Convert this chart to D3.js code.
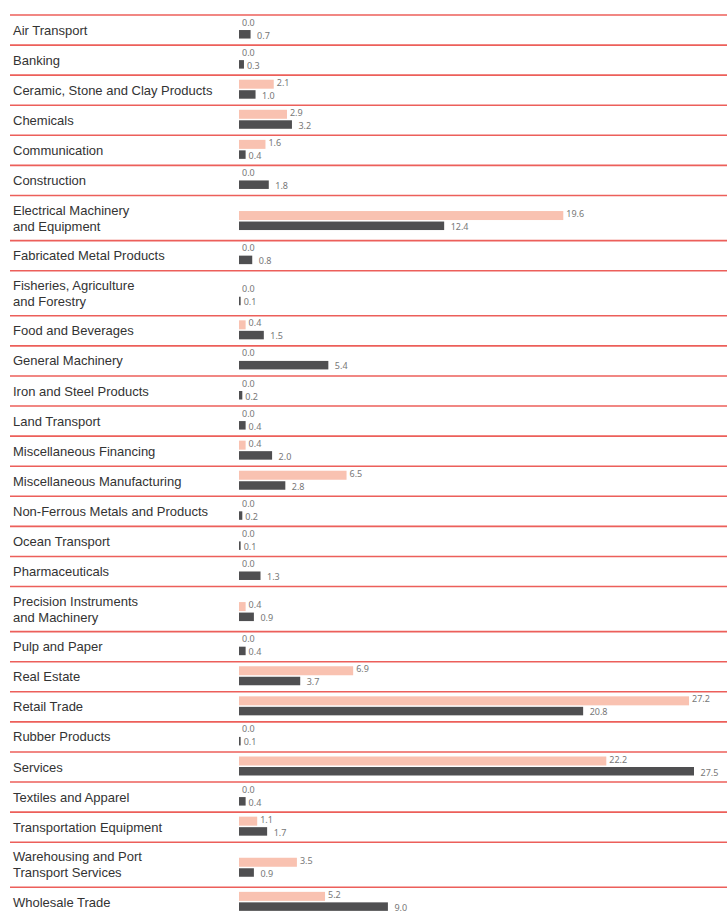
<!DOCTYPE html>
<html>
<head>
<meta charset="utf-8">
<script src="https://cdn.jsdelivr.net/npm/d3@7"></script>
<style>
  body { margin: 0; background: #fff; }
  #canvas { width: 727px; height: 913px; overflow: hidden; }
</style>
</head>
<body>
<div id="canvas"></div>
<script>
// ----------------------------------------------------------
// DATA -----------------------------------------------------
// ----------------------------------------------------------
var categories = [
  "Air Transport",
  "Banking",
  "Ceramic, Stone and Clay Products",
  "Chemicals",
  "Communication",
  "Construction",
  "Electrical Machinery\nand Equipment",
  "Fabricated Metal Products",
  "Fisheries, Agriculture\nand Forestry",
  "Food and Beverages",
  "General Machinery",
  "Iron and Steel Products",
  "Land Transport",
  "Miscellaneous Financing",
  "Miscellaneous Manufacturing",
  "Non-Ferrous Metals and Products",
  "Ocean Transport",
  "Pharmaceuticals",
  "Precision Instruments\nand Machinery",
  "Pulp and Paper",
  "Real Estate",
  "Retail Trade",
  "Rubber Products",
  "Services",
  "Textiles and Apparel",
  "Transportation Equipment",
  "Warehousing and Port\nTransport Services",
  "Wholesale Trade"
];

// light (upper) bars
var series_1 = [0.0, 0.0, 2.1, 2.9, 1.6, 0.0, 19.6, 0.0, 0.0, 0.4, 0.0, 0.0, 0.0, 0.4,
                6.5, 0.0, 0.0, 0.0, 0.4, 0.0, 6.9, 27.2, 0.0, 22.2, 0.0, 1.1, 3.5, 5.2];

// dark (lower) bars
var series_2 = [0.7, 0.3, 1.0, 3.2, 0.4, 1.8, 12.4, 0.8, 0.1, 1.5, 5.4, 0.2, 0.4, 2.0,
                2.8, 0.2, 0.1, 1.3, 0.9, 0.4, 3.7, 20.8, 0.1, 27.5, 0.4, 1.7, 0.9, 9.0];

var data_set = {
  container_width: 727,
  container_height: 913,
  top: 15,
  row_unit: 30.08,
  line_left: 10,
  bar_left: 239,
  bar_right: 694,
  domain_max: 27.5,
  color_line: "#ec5f5a",
  color_bar_1: "#f9c2b1",
  color_bar_2: "#4f4f51",
  color_label: "#333",
  color_value: "#777",
  font_label: "'Liberation Sans', Arial, sans-serif",
  font_value: "'Noto Sans', 'DejaVu Sans', sans-serif"
};

// ----------------------------------------------------------
// STRUCTURE ------------------------------------------------
// ----------------------------------------------------------
var rows = categories.map(function (c, i) {
  var lines = c.split("\n");
  return { term: c, lines: lines, v1: series_1[i], v2: series_2[i] };
});

// row positions: two-line rows take 1.5 units
var yPos = 0;
rows.forEach(function (r) {
  r.h = data_set.row_unit * (r.lines.length > 1 ? 1.5 : 1);
  r.y0 = yPos;
  yPos += r.h;
});

var yScale = d3.scaleLinear()
  .domain([0, yPos])
  .range([data_set.top, data_set.top + yPos]);

var xScale = d3.scaleLinear()
  .domain([0, data_set.domain_max])
  .range([data_set.bar_left, data_set.bar_right]);

var container = d3.select("#canvas").append("svg")
  .attr("width", data_set.container_width)
  .attr("height", data_set.container_height);

var row_group = container.selectAll(".row")
  .data(rows)
  .enter()
  .append("g")
  .attr("class", "row");

// separator lines
row_group.append("line")
  .attr("x1", data_set.line_left)
  .attr("x2", data_set.container_width)
  .attr("y1", function (d) { return yScale(d.y0); })
  .attr("y2", function (d) { return yScale(d.y0); })
  .style("stroke", data_set.color_line)
  .style("stroke-width", 1.6);

// category labels (one text per line)
row_group.each(function (d) {
  var g = d3.select(this);
  var mid = yScale(d.y0 + d.h / 2);
  var lh = 16;
  var first = mid - (d.lines.length - 1) * lh / 2 + 4.5;
  g.selectAll("text.label")
    .data(d.lines)
    .enter()
    .append("text")
    .attr("class", "label")
    .attr("x", 13)
    .attr("y", function (l, i) { return first + i * lh; })
    .style("font-family", data_set.font_label)
    .style("font-size", "13px")
    .style("fill", data_set.color_label)
    .text(function (l) { return l; });
});

// bar pair geometry relative to the row
function darkTop(d) {
  return yScale(d.y0 + d.h / 2) + (d.lines.length > 1 ? 3.5 : 0);
}

row_group.append("rect")
  .attr("class", "bar_1")
  .attr("x", xScale(0))
  .attr("y", function (d) { return darkTop(d) - 10.5; })
  .attr("width", function (d) { return xScale(d.v1) - xScale(0); })
  .attr("height", 9)
  .style("fill", data_set.color_bar_1);

row_group.append("rect")
  .attr("class", "bar_2")
  .attr("x", xScale(0))
  .attr("y", function (d) { return darkTop(d); })
  .attr("width", function (d) { return xScale(d.v2) - xScale(0); })
  .attr("height", 8.5)
  .style("fill", data_set.color_bar_2);

// value labels
row_group.append("text")
  .attr("class", "value_1")
  .attr("x", function (d) { return xScale(d.v1) + 3; })
  .attr("y", function (d) { return darkTop(d) - 4.5; })
  .style("font-family", data_set.font_value)
  .style("font-size", "9px")
  .style("fill", data_set.color_value)
  .text(function (d) { return d3.format(".1f")(d.v1); });

row_group.append("text")
  .attr("class", "value_2")
  .attr("x", function (d) { return xScale(d.v2) + (d.v2 < 0.5 ? 3 : 6.5); })
  .attr("y", function (d) { return darkTop(d) + 8.5; })
  .style("font-family", data_set.font_value)
  .style("font-size", "9px")
  .style("fill", data_set.color_value)
  .text(function (d) { return d3.format(".1f")(d.v2); });
</script>
</body>
</html>
